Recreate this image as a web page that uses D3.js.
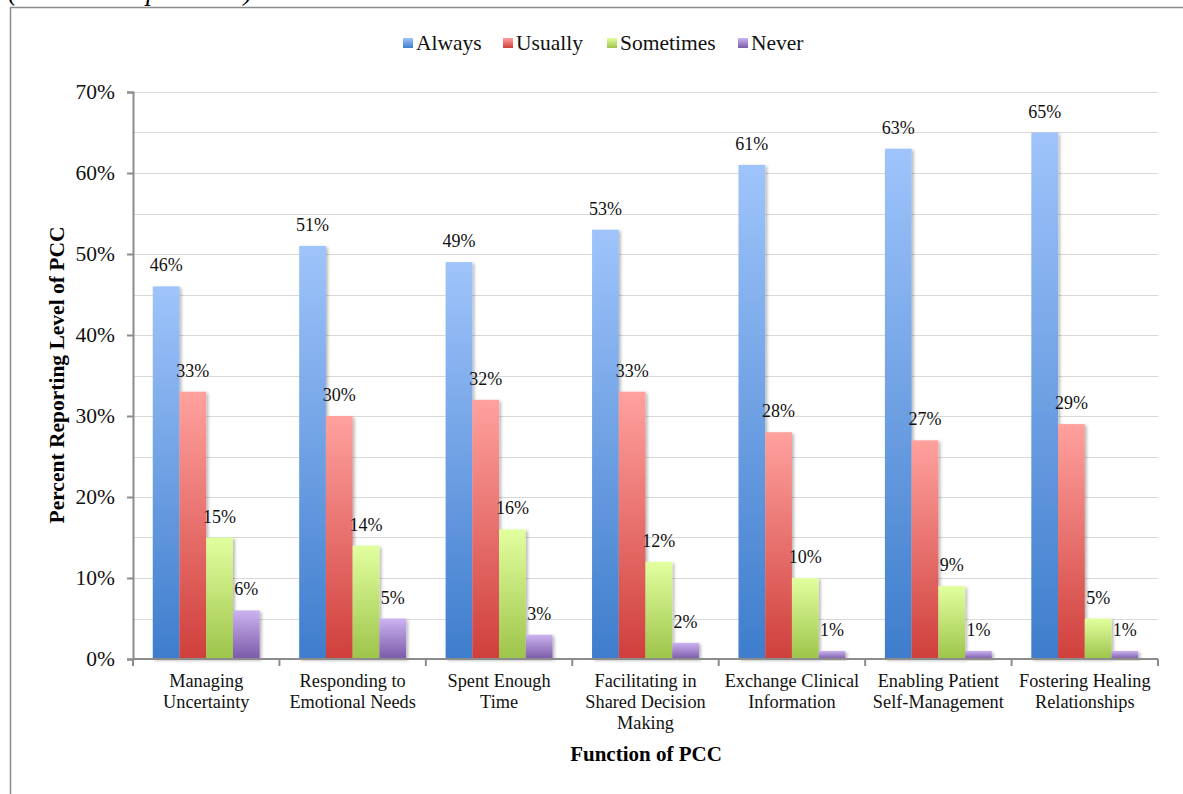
<!DOCTYPE html>
<html>
<head>
<meta charset="utf-8">
<script src="https://cdn.jsdelivr.net/npm/d3@7"></script>
<style>
  html, body { margin: 0; padding: 0; background: #fff; }
  svg { display: block; }
  svg text { font-family: "Liberation Serif", "Times New Roman", serif; }
</style>
</head>
<body>
<svg id="chart" width="1183" height="794"></svg>
<script>
// Functions of patient-centred communication (PCC)
const categories = [
  "Managing\nUncertainty",
  "Responding to\nEmotional Needs",
  "Spent Enough\nTime",
  "Facilitating in\nShared Decision\nMaking",
  "Exchange Clinical\nInformation",
  "Enabling Patient\nSelf-Management",
  "Fostering Healing\nRelationships"
];
const seriesNames = ["Always", "Usually", "Sometimes", "Never"];
const always    = [46, 51, 49, 53, 61, 63, 65];
const usually   = [33, 30, 32, 33, 28, 27, 29];
const sometimes = [15, 14, 16, 12, 10,  9,  5];
const never     = [ 6,  5,  3,  2,  1,  1,  1];
const yTicks = [0, 10, 20, 30, 40, 50, 60, 70];
const yGrid  = [5, 10, 15, 20, 25, 30, 35, 40, 45, 50, 55, 60, 65, 70];

const seriesValues = [always, usually, sometimes, never];
// top / bottom colours of each series' vertical gradient
const seriesColors = [
  ["#9fc4fb", "#3e7dcc"],
  ["#ffa19e", "#cf3f3b"],
  ["#e2ff9f", "#9dc44a"],
  ["#cbb3f0", "#7a5aa8"]
];

const svg = d3.select("#chart");
const defs = svg.append("defs");

seriesNames.forEach((name, i) => {
  const g = defs.append("linearGradient")
    .attr("id", "grad" + i)
    .attr("x1", 0).attr("y1", 0).attr("x2", 0).attr("y2", 1);
  g.append("stop").attr("offset", "0%").attr("stop-color", seriesColors[i][0]);
  g.append("stop").attr("offset", "100%").attr("stop-color", seriesColors[i][1]);
});

const shadow = defs.append("filter").attr("id", "barShadow")
  .attr("x", "-20%").attr("y", "-10%").attr("width", "150%").attr("height", "130%");
shadow.append("feDropShadow")
  .attr("dx", 2).attr("dy", 1.5).attr("stdDeviation", 1.6)
  .attr("flood-color", "#000").attr("flood-opacity", 0.28);

// caption line of the figure, mostly outside the top edge
svg.append("text")
  .attr("x", 8).attr("y", 0)
  .attr("font-size", 27).attr("font-style", "italic")
  .text("(N = 800 respondents)");

// outer chart frame
svg.append("rect")
  .attr("x", 10.5).attr("y", 7.5)
  .attr("width", 1200).attr("height", 820)
  .attr("fill", "none").attr("stroke", "#8c8c8c").attr("stroke-width", 1.5);

const plot = { left: 133, right: 1158, top: 92, bottom: 659 };

const y = d3.scaleLinear().domain([0, 70]).range([plot.bottom, plot.top]);
const x = d3.scaleBand().domain(categories).range([plot.left, plot.right]);
const bw = x.bandwidth();
const xs = d3.scaleBand().domain(seriesNames)
  .range([bw * 0.135, bw * 0.865]).padding(0);

// horizontal gridlines
svg.append("g").selectAll("line").data(yGrid).join("line")
  .attr("x1", plot.left).attr("x2", plot.right)
  .attr("y1", d => Math.round(y(d)) + 0.5).attr("y2", d => Math.round(y(d)) + 0.5)
  .attr("stroke", "#d9d9d9").attr("stroke-width", 1.2);

// bars
const groups = svg.append("g").selectAll("g").data(categories).join("g")
  .attr("transform", c => `translate(${x(c)},0)`);

groups.selectAll("rect")
  .data((c, ci) => seriesNames.map((s, si) => ({ s, si, v: seriesValues[si][ci] })))
  .join("rect")
  .attr("x", d => xs(d.s))
  .attr("width", xs.bandwidth())
  .attr("y", d => y(d.v))
  .attr("height", d => y(0) - y(d.v))
  .attr("fill", d => `url(#grad${d.si})`)
  .attr("filter", "url(#barShadow)");

// value labels
groups.selectAll("text.val")
  .data((c, ci) => seriesNames.map((s, si) => ({ s, si, v: seriesValues[si][ci] })))
  .join("text")
  .attr("class", "val")
  .attr("x", d => xs(d.s) + xs.bandwidth() / 2)
  .attr("y", d => y(d.v) - 15)
  .attr("text-anchor", "middle")
  .attr("font-size", 18)
  .attr("fill", "#111")
  .text(d => d.v + "%");

// y axis
const yAxis = d3.axisLeft(y).tickValues(yTicks).tickFormat(d => d + "%")
  .tickSize(6).tickPadding(12);
const gy = svg.append("g").attr("transform", `translate(${plot.left},0)`).call(yAxis)
  .attr("font-family", null).attr("font-size", null);
gy.select(".domain").attr("stroke", "#8c8c8c").attr("stroke-width", 2);
gy.selectAll(".tick line").attr("stroke", "#8c8c8c").attr("stroke-width", 2);
gy.selectAll(".tick text")
  .attr("font-size", 21.5).attr("fill", "#111");

// x axis baseline with category separators
const gx = svg.append("g").attr("transform", `translate(0,${plot.bottom})`);
gx.append("line")
  .attr("x1", plot.left).attr("x2", plot.right)
  .attr("stroke", "#8c8c8c").attr("stroke-width", 2);
const bounds = categories.map(c => x(c)).concat([plot.right]);
gx.selectAll("line.sep").data(bounds).join("line")
  .attr("class", "sep")
  .attr("x1", d => d).attr("x2", d => d)
  .attr("y1", 0).attr("y2", 7)
  .attr("stroke", "#8c8c8c").attr("stroke-width", 2);

// category labels
gx.selectAll("text.cat").data(categories).join("text")
  .attr("class", "cat")
  .attr("text-anchor", "middle")
  .attr("font-size", 18.3)
  .attr("fill", "#111")
  .attr("transform", c => `translate(${x(c) + bw / 2},0)`)
  .each(function (c) {
    const t = d3.select(this);
    c.split("\n").forEach((line, i) => {
      t.append("tspan").attr("x", 0).attr("y", 28 + i * 21).text(line);
    });
  });

// axis titles
svg.append("text")
  .attr("x", 646).attr("y", 761)
  .attr("text-anchor", "middle")
  .attr("font-size", 21).attr("font-weight", "bold")
  .text("Function of PCC");

svg.append("text")
  .attr("transform", "translate(64,375) rotate(-90)")
  .attr("text-anchor", "middle")
  .attr("font-size", 21.5).attr("font-weight", "bold")
  .text("Percent Reporting Level of PCC");

// legend
const legendX = [403, 503, 607, 738];
const legend = svg.append("g").selectAll("g").data(seriesNames).join("g")
  .attr("transform", (d, i) => `translate(${legendX[i]},43)`);
legend.append("rect")
  .attr("x", 0).attr("y", -5).attr("width", 10).attr("height", 10)
  .attr("fill", (d, i) => `url(#grad${i})`);
legend.append("text")
  .attr("x", 13).attr("y", 7)
  .attr("font-size", 21.5).attr("fill", "#111")
  .text(d => d);
</script>
</body>
</html>
